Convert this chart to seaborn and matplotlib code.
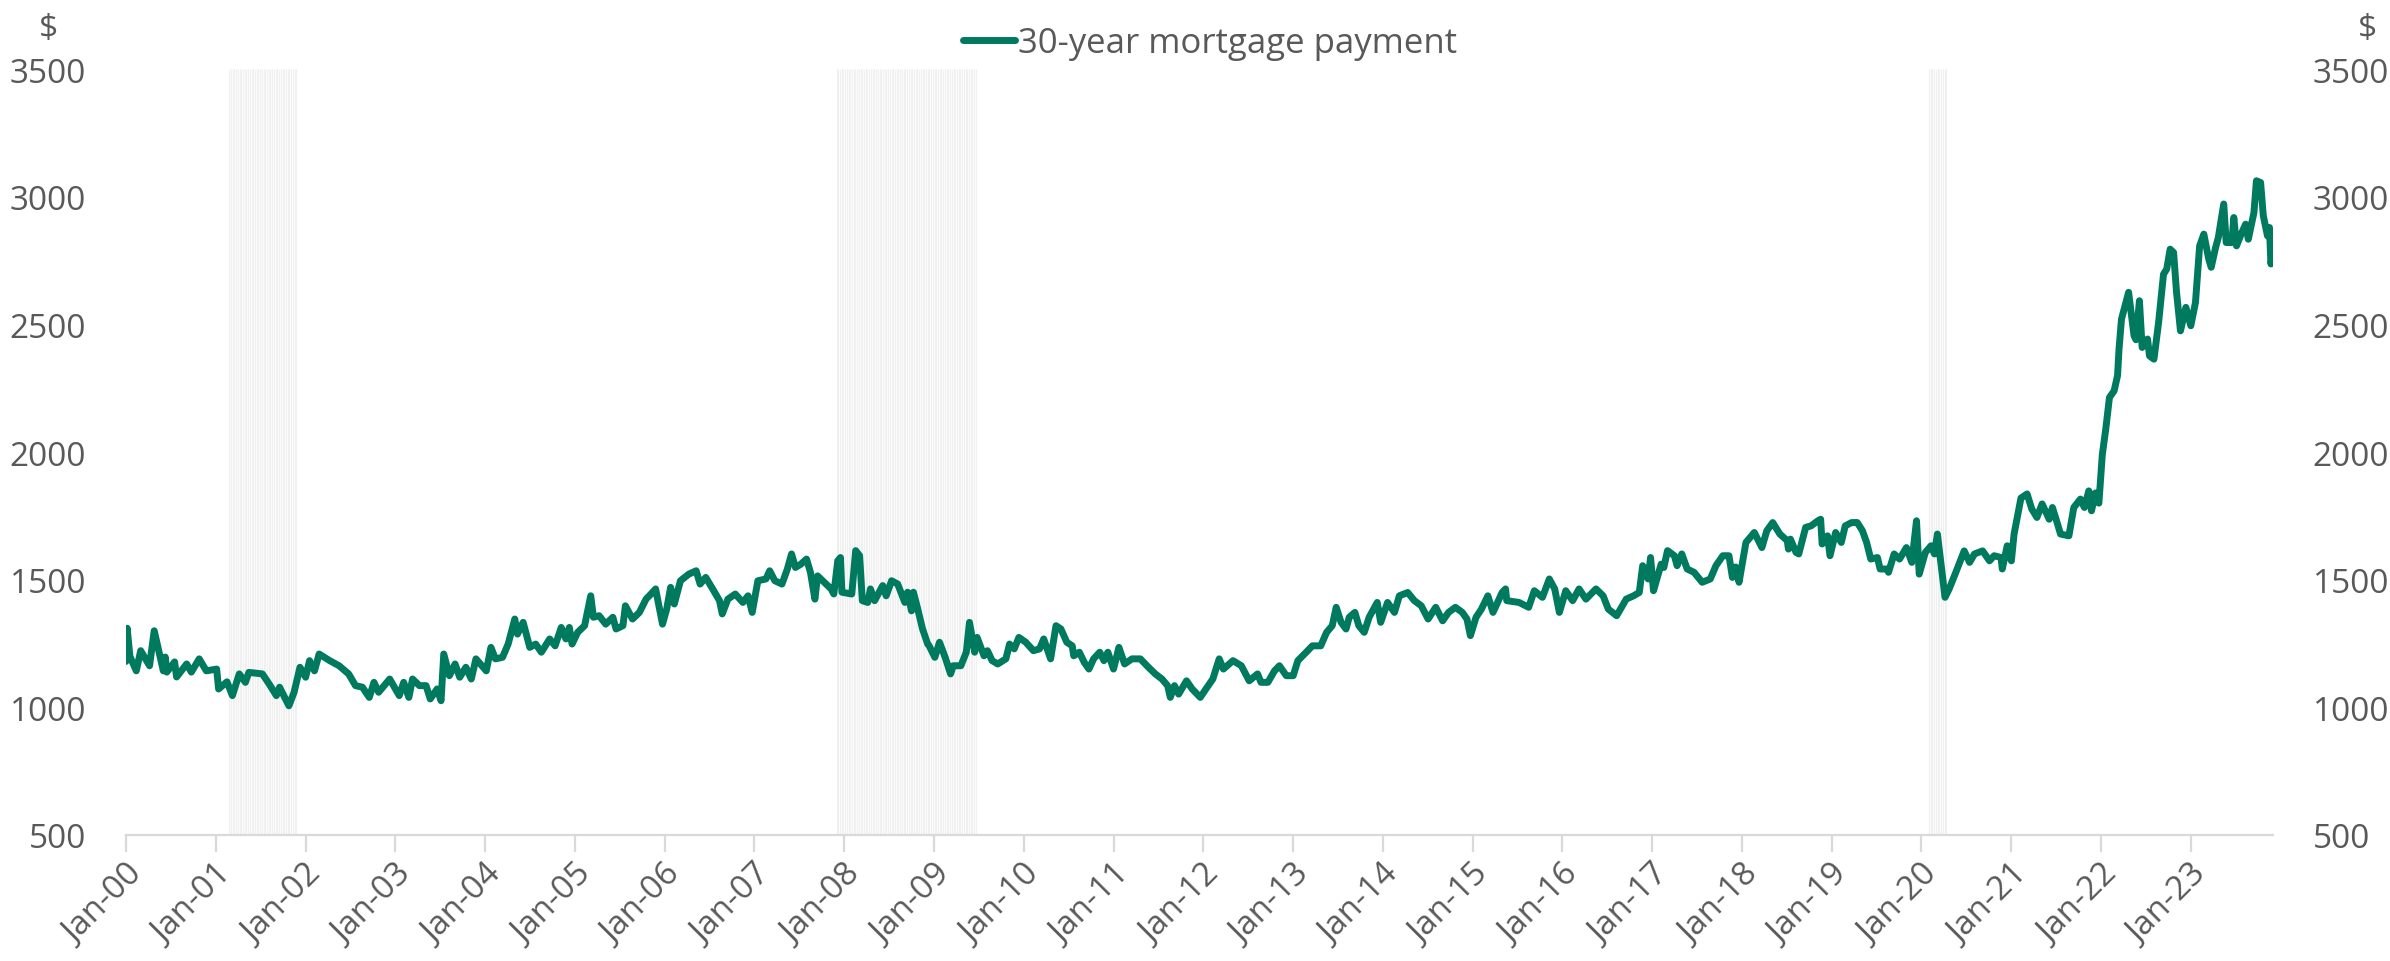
import matplotlib
matplotlib.use("Agg")
import matplotlib.pyplot as plt
import matplotlib.dates as mdates
import seaborn as sns
import pandas as pd

# months since Jan-2000 (fractional) and payment in $
month_idx = [
    0.0, 0.2, 0.6, 1.4, 2.0, 3.2, 3.9, 5.0, 5.3, 5.5, 6.6, 6.9, 8.1, 8.8, 9.9, 10.8,
    12.1, 12.4, 13.5, 14.3, 15.2, 16.0, 16.5, 18.3, 19.2, 20.1, 20.6, 21.9, 22.5, 23.3,
    24.0, 24.6, 25.2, 25.9, 27.3, 28.6, 29.9, 30.8, 31.7, 32.6, 33.2, 33.9, 35.3,
    36.6, 37.1, 37.9, 38.4, 39.3, 40.2, 40.8, 41.7, 42.2, 42.6, 43.3, 44.0, 44.7, 45.5,
    46.2, 46.9, 48.2, 48.9, 49.4, 50.4, 51.1, 52.0, 52.4, 53.1, 54.0, 54.9, 55.6, 56.7,
    57.4, 58.2, 58.9, 59.3, 59.7, 60.4, 61.3, 62.2, 62.6, 63.3, 64.2, 65.1, 65.6, 66.5,
    66.9, 67.8, 68.7, 69.6, 70.2, 70.9, 71.8, 72.3, 72.9, 73.3, 74.2, 75.3, 76.3, 76.9,
    77.6, 78.5, 79.4, 79.8, 80.5, 81.5, 82.5, 83.2, 83.8, 84.5, 85.6, 86.1, 86.9, 87.8,
    88.5, 89.0, 89.6, 90.3, 91.0, 91.6, 92.1, 92.5, 93.4, 94.3, 94.7, 95.2, 95.6, 95.8,
    97.0, 97.6, 98.1, 98.5, 99.2, 99.6, 100.1, 101.2, 101.7, 102.4, 103.2, 104.1, 104.5,
    105.0, 105.3, 105.9, 106.5, 107.2, 107.4, 108.1, 108.8, 109.5, 110.3, 110.7, 111.7,
    112.4, 112.9, 113.5, 113.9, 114.8, 115.2, 115.9, 116.6, 117.7, 118.1, 118.8, 119.4,
    120.3, 121.3, 122.2, 122.8, 123.7, 124.4, 125.0, 125.9, 126.6, 126.8, 127.5, 128.1,
    128.8, 129.4, 130.2, 130.8, 131.3, 132.0, 132.8, 133.5, 134.6, 135.7, 136.8, 137.7,
    138.6, 139.3, 139.7, 140.2, 140.8, 141.9, 142.6, 143.7, 144.4, 145.3, 146.2, 146.8,
    148.0, 149.1, 150.2, 151.3, 151.8, 152.7, 153.6, 154.2, 155.1, 156.0, 156.7, 157.8,
    158.7, 159.8, 160.6, 161.3, 161.9, 162.5, 163.1, 163.6, 164.3, 164.9, 165.6, 166.2,
    167.3, 167.8, 168.7, 169.6, 170.3, 171.4, 172.3, 173.2, 174.1, 175.1, 176.0, 176.9,
    177.8, 178.7, 179.3, 179.8, 180.5, 181.2, 182.1, 182.9, 184.0, 184.5, 184.7, 186.3,
    187.6, 188.3, 189.4, 190.3, 191.0, 191.7, 192.5, 193.4, 194.3, 195.2, 196.6, 197.5,
    198.2, 199.3, 200.6, 201.6, 202.3, 202.8, 203.5, 203.9, 204.2, 205.2, 205.6, 206.1,
    207.0, 207.4, 208.0, 208.8, 209.7, 210.8, 211.9, 212.6, 213.5, 214.3, 214.8, 215.2,
    215.7, 216.6, 217.7, 218.8, 219.4, 220.2, 221.1, 222.1, 222.3, 222.6, 223.3, 223.7,
    224.6, 225.3, 226.2, 226.6, 226.8, 227.5, 227.9, 228.6, 229.3, 229.9, 230.8, 231.5,
    232.2, 232.8, 233.3, 234.2, 234.6, 235.5, 235.7, 236.4, 237.1, 238.0, 238.8, 239.4,
    239.8, 240.6, 241.3, 241.8, 242.2, 243.2, 243.8, 244.7, 245.8, 246.5, 247.1, 248.2,
    249.1, 249.8, 250.7, 250.9, 251.5, 252.0, 252.4, 253.3, 254.2, 254.9, 255.5, 256.2,
    257.1, 257.6, 258.2, 258.7, 259.8, 260.4, 261.3, 261.9, 262.4, 262.8, 263.3, 263.8,
    264.2, 264.7, 265.1, 265.8, 266.3, 266.5, 266.9, 267.8, 268.5, 268.8, 269.2, 269.6,
    270.3, 270.6, 271.1, 271.8, 272.4, 272.9, 273.3, 273.8, 274.1, 274.7, 275.4, 276.0,
    276.7, 277.2, 277.8, 278.5, 278.9, 279.4, 279.8, 280.5, 280.9, 281.6, 281.9, 282.2,
    282.9, 283.4, 283.8, 284.5, 284.9, 285.4, 285.8, 286.3, 286.6, 286.8, 287.0,
]
payment = [
    1180, 1310, 1200, 1143, 1222, 1163, 1300, 1143, 1197, 1138, 1178, 1119, 1170, 1138, 1190, 1143,
    1150, 1072, 1100, 1046, 1131, 1098, 1137, 1131, 1091, 1046, 1079, 1006, 1059, 1157,
    1118, 1183, 1143, 1209, 1183, 1163, 1131, 1085, 1079, 1039, 1098, 1059, 1111,
    1046, 1098, 1039, 1111, 1085, 1085, 1033, 1072, 1026, 1209, 1124, 1170, 1118, 1157,
    1111, 1190, 1143, 1235, 1190, 1196, 1248, 1346, 1287, 1333, 1235, 1248, 1216, 1268,
    1241, 1313, 1268, 1313, 1248, 1294, 1320, 1437, 1353, 1359, 1326, 1353, 1307, 1320,
    1398, 1346, 1372, 1424, 1444, 1464, 1326, 1385, 1470, 1405, 1496, 1522, 1535, 1483,
    1509, 1464, 1418, 1366, 1424, 1444, 1411, 1437, 1372, 1496, 1503, 1535, 1496, 1483,
    1542, 1601, 1548, 1561, 1581, 1529, 1424, 1515, 1490, 1464, 1444, 1574, 1587, 1451,
    1444, 1614, 1594, 1418, 1411, 1464, 1418, 1477, 1437, 1496, 1483, 1411, 1451,
    1378, 1451, 1391, 1307, 1248, 1241, 1196, 1255, 1196, 1131, 1163, 1163,
    1216, 1333, 1216, 1274, 1202, 1222, 1183, 1170, 1190, 1248, 1229, 1274,
    1255, 1222, 1229, 1268, 1190, 1320, 1307, 1255, 1241, 1202, 1216, 1176,
    1150, 1190, 1216, 1183, 1216, 1150, 1235, 1170, 1190, 1190, 1157, 1131,
    1111, 1085, 1039, 1085, 1052, 1104, 1072, 1039, 1072, 1111, 1190, 1150,
    1183, 1163, 1104, 1131, 1098, 1098, 1143, 1163, 1124, 1124, 1183, 1216,
    1241, 1241, 1294, 1320, 1392, 1333, 1307, 1353, 1372, 1320, 1294, 1353,
    1411, 1333, 1411, 1372, 1437, 1450, 1418, 1398, 1346, 1392, 1339, 1372,
    1392, 1372, 1346, 1281, 1353, 1385, 1437, 1372, 1450, 1464, 1418, 1411,
    1392, 1457, 1431, 1503, 1464, 1372, 1457, 1418, 1464, 1424, 1464, 1437,
    1385, 1359, 1424, 1437, 1450, 1555, 1503, 1587, 1457, 1561, 1548, 1614,
    1594, 1555, 1601, 1542, 1529, 1490, 1503, 1555, 1594, 1594, 1509, 1550,
    1490, 1646, 1685, 1626, 1692, 1724, 1679, 1653, 1620, 1659, 1607, 1601,
    1705, 1711, 1731, 1737, 1640, 1672, 1594, 1685, 1646, 1711, 1724, 1724,
    1692, 1646, 1581, 1587, 1542, 1542, 1529, 1601, 1581, 1626, 1568, 1731,
    1522, 1607, 1633, 1601, 1679, 1431, 1464, 1529, 1613, 1568, 1601, 1613,
    1574, 1594, 1587, 1542, 1633, 1574, 1679, 1820, 1836, 1777, 1744, 1797,
    1737, 1783, 1724, 1679, 1672, 1783, 1816, 1783, 1848, 1770, 1840, 1800,
    1990, 2090, 2214, 2240, 2300, 2404, 2521, 2626, 2456, 2440, 2593, 2410,
    2443, 2377, 2364, 2508, 2697, 2717, 2795, 2782, 2626, 2475, 2567, 2495,
    2586, 2808, 2854, 2756, 2724, 2802, 2841, 2972, 2821, 2821, 2919, 2808,
    2854, 2893, 2834, 2939, 3063, 3056, 2926, 2847, 2880, 2737, 2789,
]

recessions = [("2001-02-24", "2001-11-25"), ("2007-12-01", "2009-06-20"), ("2020-02-01", "2020-04-15")]
y_ticks = [500, 1000, 1500, 2000, 2500, 3000, 3500]
series_name = "30-year mortgage payment"

GREEN = "#007a5e"
GREY_TXT = "#595959"
AXIS_GREY = "#d9d9d9"


def month_to_date(m):
    y, mo = divmod(int(m), 12)
    day = 1 + int(round((m - int(m)) * 27))
    return pd.Timestamp(2000 + y, mo + 1, day)


df = pd.DataFrame({"date": [month_to_date(m) for m in month_idx], "payment": payment})

sns.set_style("white")
plt.rcParams["font.family"] = ["Open Sans", "DejaVu Sans"]

fig = plt.figure(figsize=(23.9, 9.62), dpi=100)
ax = fig.add_axes([0.0527, 0.131, 0.8983, 0.796])

# recession shading drawn as thin weekly stripes
for start, end in recessions:
    weeks = pd.date_range(start, end, freq="7D")
    ax.vlines(weeks, 500, 3500, color="#f0f0f0", lw=0.9, zorder=1)

sns.lineplot(data=df, x="date", y="payment", ax=ax, color=GREEN, lw=5.0,
             label=series_name, zorder=3)

ax.set_ylim(500, 3500)
ax.set_yticks(y_ticks)
ax.set_xlim(pd.Timestamp("2000-01-01"), pd.Timestamp("2023-12-01"))
ax.xaxis.set_major_locator(mdates.YearLocator(1, month=1, day=1))
ax.xaxis.set_major_formatter(mdates.DateFormatter("%b-%y"))
ax.set_xlabel("")
ax.set_ylabel("")

for s in ["top", "right", "left"]:
    ax.spines[s].set_visible(False)
ax.spines["bottom"].set_color(AXIS_GREY)
ax.spines["bottom"].set_linewidth(1.6)

ax.tick_params(axis="y", left=False, right=False, labelleft=True, labelright=True,
               labelsize=24, labelcolor=GREY_TXT, pad=25)
ax.tick_params(axis="x", bottom=True, length=12, width=1.6, color=AXIS_GREY,
               labelsize=24, labelcolor=GREY_TXT, pad=4)
for lab in ax.get_xticklabels():
    lab.set_rotation(45)
    lab.set_ha("right")
    lab.set_va("top")
    lab.set_rotation_mode("anchor")

leg = ax.legend(loc="center", bbox_to_anchor=(0.505, 1.0 + 26 / 766), frameon=False,
                fontsize=25, labelcolor=GREY_TXT, handlelength=1.5, handletextpad=0.1,
                borderaxespad=0)
for h in leg.get_lines():
    h.set_linewidth(5.0)

fig.text(48 / 2390, 1 - 30 / 962, "$", ha="center", va="center", fontsize=24, color=GREY_TXT)
fig.text(2367 / 2390, 1 - 30 / 962, "$", ha="center", va="center", fontsize=24, color=GREY_TXT)

fig.savefig("out.png", dpi=100)
